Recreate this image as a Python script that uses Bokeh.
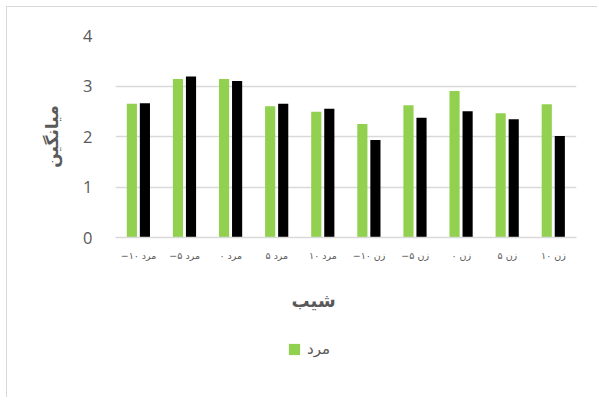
from bokeh.plotting import figure
from bokeh.layouts import column
from bokeh.models import FactorRange, ColumnDataSource, Legend, LegendItem, FixedTicker, Title
from bokeh.transform import dodge
from bokeh.embed import file_html
from bokeh.resources import INLINE

categories = ["−۱۰ مرد", "−۵ مرد", "۰ مرد", "۵ مرد", "۱۰ مرد",
              "−۱۰ زن", "−۵ زن", "۰ زن", "۵ زن", "۱۰ زن"]
series_green = [2.65, 3.14, 3.14, 2.60, 2.49, 2.25, 2.62, 2.90, 2.46, 2.64]
series_black = [2.66, 3.19, 3.10, 2.65, 2.55, 1.93, 2.37, 2.50, 2.34, 2.01]
y_ticks = [0, 1, 2, 3, 4]
legend_label = "مرد"
x_title = "شیب"
y_title = "میانگین"

GREEN = "#92D050"
GRAY_TXT = "#595959"
GRID = "#d9d9d9"

src = ColumnDataSource(dict(cat=categories, g=series_green, b=series_black))

p = figure(width=590, height=330, output_backend="svg", toolbar_location=None,
           x_range=FactorRange(factors=categories, range_padding=0),
           y_range=(0, 4),
           min_border_left=108, min_border_right=21, min_border_top=28, min_border_bottom=100)
p.outline_line_color = None

rg = p.vbar(x=dodge("cat", -0.145, range=p.x_range), top="g", width=0.22, source=src,
            fill_color=GREEN, line_color=None)
rb = p.vbar(x=dodge("cat", 0.138, range=p.x_range), top="b", width=0.22, source=src,
            fill_color="#000000", line_color=None)

p.xgrid.grid_line_color = None
p.ygrid.grid_line_color = GRID
p.ygrid.grid_line_width = 1.5
p.yaxis.ticker = FixedTicker(ticks=y_ticks)
p.yaxis.axis_line_color = None
p.yaxis.major_tick_line_color = None
p.yaxis.minor_tick_line_color = None
p.yaxis.major_label_text_font = "Open Sans"
p.yaxis.major_label_text_font_size = "16.5px"
p.yaxis.major_label_text_color = GRAY_TXT
p.yaxis.major_label_standoff = 17
p.yaxis.axis_label = y_title
p.yaxis.axis_label_standoff = 18
p.yaxis.axis_label_text_font = "DejaVu Sans"
p.yaxis.axis_label_text_font_style = "bold"
p.yaxis.axis_label_text_font_size = "17px"
p.yaxis.axis_label_text_color = GRAY_TXT

p.xaxis.axis_line_color = GRID
p.xaxis.axis_line_width = 1.5
p.xaxis.major_tick_line_color = None
p.xaxis.minor_tick_line_color = None
p.xaxis.major_label_text_font = "DejaVu Sans"
p.xaxis.major_label_text_font_size = "9.5px"
p.xaxis.major_label_text_color = GRAY_TXT
p.xaxis.major_label_standoff = 6

t = Title(text=x_title, align="left", offset=176, standoff=49,
          text_font="DejaVu Sans", text_font_style="bold", text_font_size="18px",
          text_color=GRAY_TXT)
p.add_layout(t, "below")

# legend strip below the chart
p2 = figure(width=590, height=60, output_backend="svg", toolbar_location=None,
            x_range=FactorRange(factors=categories), y_range=(10, 11),
            x_axis_location=None, y_axis_location=None,
            min_border_left=0, min_border_right=0, min_border_top=0, min_border_bottom=0)
p2.outline_line_color = None
p2.grid.grid_line_color = None
rg2 = p2.vbar(x="cat", top="g", width=0.22, source=src, fill_color=GREEN, line_color=None)

legend = Legend(items=[LegendItem(label=legend_label, renderers=[rg2])],
                location=(172, 39), orientation="horizontal",
                glyph_width=14, glyph_height=14, label_height=14, label_standoff=6,
                padding=0, margin=0, border_line_color=None, background_fill_alpha=0,
                label_text_font="DejaVu Sans", label_text_font_size="15px",
                label_text_color=GRAY_TXT)
p2.add_layout(legend, "center")

layout = column(p, p2, spacing=0)
layout.margin = (6, 0, 0, 6)
layout.styles = {"border-left": "1.5px solid #d9d9d9", "border-top": "1.5px solid #d9d9d9"}

open("out.html", "w").write(file_html(layout, INLINE))
